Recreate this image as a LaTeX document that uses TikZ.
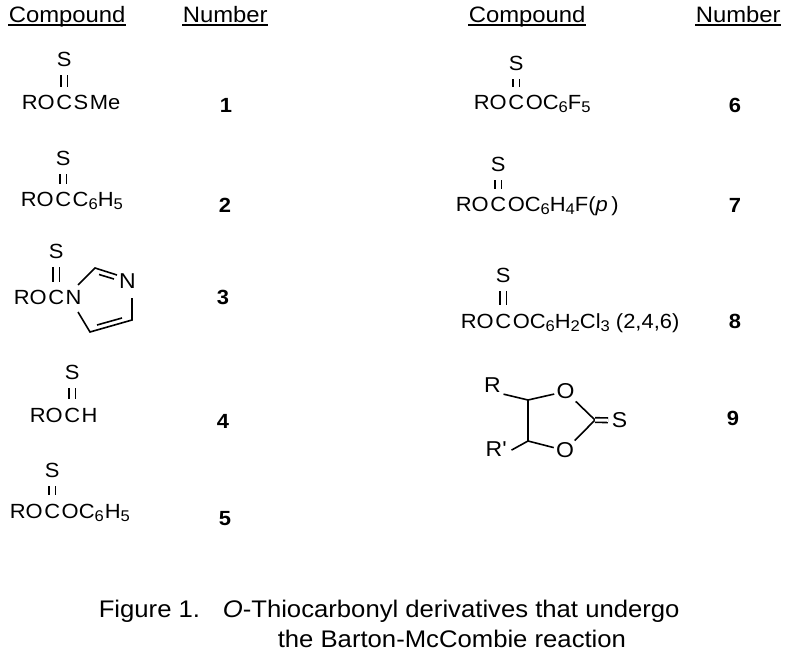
\documentclass[tikz,border=0pt]{standalone}
\usepackage{fontspec}
\setmainfont{Liberation Sans}[FakeStretch=1.07]
\usetikzlibrary{positioning}
\newcommand{\chsub}[1]{\raisebox{-3pt}{\fontsize{15.5}{15.5}\selectfont #1}}

\begin{document}
\begin{tikzpicture}[x=1pt, y=-1pt, line width=1.6pt,
    head/.style={font=\fontsize{22.3}{22.3}\selectfont, inner sep=0, anchor=base west},
    fml/.style={font=\fontsize{20.5}{20.5}\selectfont, inner sep=0, anchor=base west},
    thio/.style={font=\fontsize{20.5}{20.5}\selectfont, inner sep=0},
    atom/.style={font=\fontsize{21.5}{21.5}\selectfont, inner sep=1.5pt},
    num/.style={font=\fontsize{20.5}{20.5}\selectfont\bfseries, inner sep=0, anchor=base},
    capt/.style={font=\fontsize{24}{24}\selectfont, inner sep=0, anchor=base west},
    dbl/.style={double, line width=1.8pt, double distance=4.6pt, shorten <=7.5pt, shorten >=8pt},
    dbltwo/.style={double, double distance=3pt}]
				% page
				\useasboundingbox (0,0) rectangle (792,660);
				% headers
				\node[head] (hc1) at (8,23) {Compound};
				\node[head] (hn1) at (182,23) {Number};
				\node[head] (hc2) at (468,23) {Compound};
				\node[head] (hn2) at (695,23) {Number};
				\foreach \h in {hc1,hn1,hc2,hn2}
					\draw[line width=1.7pt] ([yshift=-2.2pt]\h.base west) -- ([yshift=-2.2pt]\h.base east);
				
				% compound 1
				\node[fml] (ro1) at (21,110) {RO};
				\node[fml] (c1) at (ro1.base east) {C};
				\node[fml] (t1) at (c1.base east) {S\kern1.5pt Me};
				\node[thio, above=27pt of c1] (s1) {S};
				\draw[dbl] (s1) -- (c1);
				% compound 2
				\node[fml] (ro2) at (20,207) {RO};
				\node[fml] (c2) at (ro2.base east) {C};
				\node[fml] (t2) at (c2.base east) {C\chsub{6}H\chsub{5}};
				\node[thio, above=25pt of c2] (s2) {S};
				\draw[dbl] (s2) -- (c2);
				% compound 3
				\node[fml] (ro3) at (13,305) {RO};
				\node[fml] (c3) at (ro3.base east) {C};
				\node[fml] (n3) at (c3.base east) {N};
				\node[thio, above=30pt of c3] (s3) {S};
				\draw[dbl] (s3) -- (c3);
				\node[atom] (im3) at (127.5,281.5) {N};
				\coordinate (n3a) at (78,285);
				\coordinate (n3b) at (78,312);
				\coordinate (im2) at (95,268);
				\coordinate (im3a) at (117,275);
				\coordinate (im3b) at (132,298);
				\coordinate (im4) at (132,320);
				\coordinate (im5) at (90,332);
				\draw (n3a) -- (im2) -- (im3a);
				\draw (im3b) -- (im4) -- (im5) -- (n3b);
				\draw (99,274.5) -- (114,279);
				\draw (97,325) -- (122,318);
				% compound 4
				\node[fml] (ro4) at (29,422) {RO};
				\node[fml] (c4) at (ro4.base east) {C};
				\node[fml] (t4) at (c4.base east) {H};
				\node[thio, above=26pt of c4] (s4) {S};
				\draw[dbl] (s4) -- (c4);
				% compound 5
				\node[fml] (ro5) at (9,518) {RO};
				\node[fml] (c5) at (ro5.base east) {C};
				\node[fml] (t5) at (c5.base east) {OC\chsub{6}\kern1pt H\chsub{5}};
				\node[thio, above=24pt of c5] (s5) {S};
				\draw[dbl] (s5) -- (c5);
				
				% compound 6
				\node[fml] (ro6) at (473,110) {RO};
				\node[fml] (c6) at (ro6.base east) {C};
				\node[fml] (t6) at (c6.base east) {OC\chsub{6}F\chsub{5}};
				\node[thio, above=23pt of c6] (s6) {S};
				\draw[dbl] (s6) -- (c6);
				% compound 7
				\node[fml] (ro7) at (455,212) {RO};
				\node[fml] (c7) at (ro7.base east) {C};
				\node[fml] (t7) at (c7.base east) {OC\chsub{6}H\chsub{4}F(\textit{p}\,)};
				\node[thio, above=24pt of c7] (s7) {S};
				\draw[dbl] (s7) -- (c7);
				% compound 8
				\node[fml] (ro8) at (460,328) {RO};
				\node[fml] (c8) at (ro8.base east) {C};
				\node[fml] (t8) at (c8.base east) {OC\chsub{6}H\chsub{2}Cl\chsub{3} (2,4,6)};
				\node[thio, above=29pt of c8] (s8) {S};
				\draw[dbl] (s8) -- (c8);
				% compound 9
				\node[atom, inner sep=0] (ra) at (492.5,385.5) {R};
				\node[atom, inner sep=0] (rb) at (496,449.5) {R\textquotesingle};
				\node[atom] (oa) at (565.5,391.5) {O};
				\node[atom] (ob) at (565,450.5) {O};
				\node[atom, inner sep=3pt] (sx) at (619.5,420.5) {S};
				\coordinate (ca) at (528,400);
				\coordinate (cb) at (528,441);
				\coordinate (cc) at (595,420);
				\draw (ca) -- (oa) -- (cc) -- (ob) -- (cb) -- (ca);
				\draw[shorten <=2pt] (ra.south east) -- (ca);
				\draw[shorten <=5pt] ([yshift=-3pt]rb.east) -- (cb);
				\draw[dbltwo] (cc) -- (sx);
				
				% numbers
				\node[num] (no1) at (226,113) {1};
				\node[num] (no2) at (225,213) {2};
				\node[num] (no3) at (223,305) {3};
				\node[num] (no4) at (223,428) {4};
				\node[num] (no5) at (225,525) {5};
				\node[num] (no6) at (735,113) {6};
				\node[num] (no7) at (735,213) {7};
				\node[num] (no8) at (735,328) {8};
				\node[num] (no9) at (733,425) {9};
				
				% caption
				\node[capt] (fig) at (98,617) {Figure 1.};
				\node[capt] (cap1) at (222,617) {\textit{O}-Thiocarbonyl derivatives that undergo};
				\node[capt] (cap2) at (277,647) {the Barton-McCombie reaction};
\end{tikzpicture}
\end{document}
